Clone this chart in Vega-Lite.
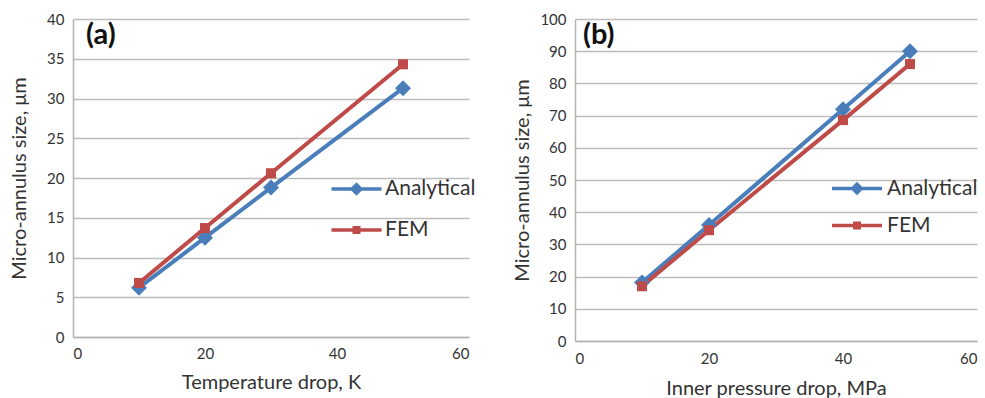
{
  "$schema": "https://vega.github.io/schema/vega-lite/v6.json",
  "autosize": {"type": "pad"},
  "padding": {"left": 9, "top": 12, "right": 0, "bottom": 0},
  "config": {
    "font": "Lato",
    "view": {"stroke": null},
    "axis": {
      "labelFontSize": 15,
      "labelColor": "#333333",
      "titleColor": "#333333",
      "titleFontSize": 20,
      "titleFontWeight": "normal",
      "ticks": false,
      "labelPadding": 9,
      "domainColor": "#b3b3b3",
      "domainWidth": 1.5,
      "gridColor": "#bdbdbd",
      "gridWidth": 1.5
    },
    "title": {"anchor": "start", "frame": "group", "fontSize": 29, "fontWeight": "bold", "color": "#111111", "offset": -38}
  },
  "resolve": {"scale": {"color": "independent", "x": "independent", "y": "independent"}, "legend": {"color": "independent"}},
  "spacing": 36,
  "hconcat": [
    {
      "width": 396,
      "height": 318,
      "title": {"text": "(a)", "dx": 13},
      "data": {"values": [
        {"series": "Analytical", "x": 10, "y": 6.2},
        {"series": "Analytical", "x": 20, "y": 12.5},
        {"series": "Analytical", "x": 30, "y": 18.8},
        {"series": "Analytical", "x": 50, "y": 31.3},
        {"series": "FEM", "x": 10, "y": 6.8},
        {"series": "FEM", "x": 20, "y": 13.7},
        {"series": "FEM", "x": 30, "y": 20.6},
        {"series": "FEM", "x": 50, "y": 34.3}
      ]},
      "encoding": {
        "x": {"field": "x", "type": "quantitative", "scale": {"domain": [0, 60], "nice": false},
          "axis": {"title": "Temperature drop, K", "values": [0, 20, 40, 60], "grid": false, "titlePadding": 11}},
        "y": {"field": "y", "type": "quantitative", "scale": {"domain": [0, 40], "nice": false},
          "axis": {"title": "Micro-annulus size, μm", "values": [0, 5, 10, 15, 20, 25, 30, 35, 40], "titlePadding": 17}}
      },
      "layer": [
        {
          "mark": {"type": "line", "strokeWidth": 4},
          "encoding": {
            "color": {"field": "series", "type": "nominal",
              "scale": {"domain": ["Analytical", "FEM"], "range": ["#4A7EBB", "#BE4B48"]},
              "legend": {
                "orient": "none", "legendX": 269, "legendY": 155.5, "title": null, "padding": 0,
                "symbolSize": 625, "symbolStrokeWidth": 4, "labelFontSize": 21, "labelOffset": 14,
                "rowPadding": 15, "labelColor": "#333333",
                "encode": {"symbols": {"update": {
                  "shape": {"signal": "datum.value === 'Analytical' ? 'M-2,0L2,0M0,-0.35L0.35,0L0,0.35L-0.35,0Z' : 'M-2,0L2,0M-0.18,-0.18L0.18,-0.18L0.18,0.18L-0.18,0.18Z'"},
                  "size": {"value": 625},
                  "fill": {"signal": "datum.value === 'Analytical' ? '#4A7EBB' : '#BE4B48'"},
                  "stroke": {"signal": "datum.value === 'Analytical' ? '#4A7EBB' : '#BE4B48'"},
                  "strokeWidth": {"value": 3.5},
                  "opacity": {"value": 1}
                }}}
              }}
          }
        },
        {
          "transform": [{"filter": "datum.series === 'Analytical'"}],
          "mark": {"type": "point", "filled": true, "opacity": 1, "shape": "diamond", "size": 256, "color": "#4A7EBB"}
        },
        {
          "transform": [{"filter": "datum.series === 'FEM'"}],
          "mark": {"type": "point", "filled": true, "opacity": 1, "shape": "square", "size": 100, "color": "#BE4B48"}
        }
      ]
    },
    {
      "width": 402,
      "height": 322,
      "title": {"text": "(b)", "dx": 8},
      "data": {"values": [
        {"series": "Analytical", "x": 10, "y": 18.2},
        {"series": "Analytical", "x": 20, "y": 36},
        {"series": "Analytical", "x": 40, "y": 72},
        {"series": "Analytical", "x": 50, "y": 90},
        {"series": "FEM", "x": 10, "y": 17},
        {"series": "FEM", "x": 20, "y": 34.4},
        {"series": "FEM", "x": 40, "y": 68.6},
        {"series": "FEM", "x": 50, "y": 86}
      ]},
      "encoding": {
        "x": {"field": "x", "type": "quantitative", "scale": {"domain": [0, 60], "nice": false},
          "axis": {"title": "Inner pressure drop, MPa", "values": [0, 20, 40, 60], "grid": false, "titlePadding": 12, "labelPadding": 10}},
        "y": {"field": "y", "type": "quantitative", "scale": {"domain": [0, 100], "nice": false},
          "axis": {"title": "Micro-annulus size, μm", "values": [0, 10, 20, 30, 40, 50, 60, 70, 80, 90, 100], "titlePadding": 7}}
      },
      "layer": [
        {
          "mark": {"type": "line", "strokeWidth": 4},
          "encoding": {
            "color": {"field": "series", "type": "nominal",
              "scale": {"domain": ["Analytical", "FEM"], "range": ["#4A7EBB", "#BE4B48"]},
              "legend": {
                "orient": "none", "legendX": 267.5, "legendY": 155, "title": null, "padding": 0,
                "symbolSize": 625, "symbolStrokeWidth": 4, "labelFontSize": 21, "labelOffset": 15.5,
                "rowPadding": 11, "labelColor": "#333333",
                "encode": {"symbols": {"update": {
                  "shape": {"signal": "datum.value === 'Analytical' ? 'M-2,0L2,0M0,-0.35L0.35,0L0,0.35L-0.35,0Z' : 'M-2,0L2,0M-0.18,-0.18L0.18,-0.18L0.18,0.18L-0.18,0.18Z'"},
                  "size": {"value": 625},
                  "fill": {"signal": "datum.value === 'Analytical' ? '#4A7EBB' : '#BE4B48'"},
                  "stroke": {"signal": "datum.value === 'Analytical' ? '#4A7EBB' : '#BE4B48'"},
                  "strokeWidth": {"value": 3.5},
                  "opacity": {"value": 1}
                }}}
              }}
          }
        },
        {
          "transform": [{"filter": "datum.series === 'Analytical'"}],
          "mark": {"type": "point", "filled": true, "opacity": 1, "shape": "diamond", "size": 256, "color": "#4A7EBB"}
        },
        {
          "transform": [{"filter": "datum.series === 'FEM'"}],
          "mark": {"type": "point", "filled": true, "opacity": 1, "shape": "square", "size": 100, "color": "#BE4B48"}
        }
      ]
    }
  ]
}
